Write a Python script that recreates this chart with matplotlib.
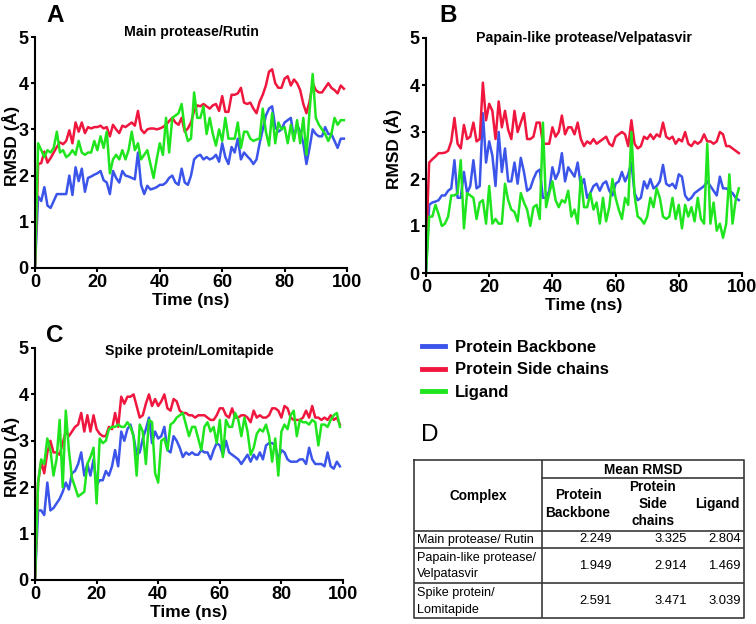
import numpy as np
import matplotlib
matplotlib.use("Agg")
import matplotlib.pyplot as plt
from matplotlib.lines import Line2D

plt.rcParams['font.family'] = ['Liberation Sans', 'DejaVu Sans']

# ---- data (RMSD in Angstrom, sampled every 1 ns) ----
time = np.arange(100)

rutin_backbone = [
    0.0, 1.55, 1.45, 1.75, 1.35, 1.3, 1.45, 1.6, 1.6, 1.6,
    1.6, 2.0, 1.58, 2.18, 1.88, 2.15, 1.65, 1.95, 1.98, 2.02,
    2.05, 2.1, 1.9, 1.85, 1.6, 2.1, 1.95, 1.85, 2.1, 2.0,
    1.98, 1.95, 1.92, 2.5, 1.8, 1.6, 1.78, 1.7, 1.72, 1.75,
    1.8, 1.8, 1.85, 1.95, 2.0, 1.85, 1.8, 2.15, 1.85, 1.8,
    2.0, 2.35, 2.42, 2.45, 2.35, 2.4, 2.35, 2.38, 2.45, 2.3,
    2.7, 2.4, 2.25, 2.62, 2.5, 2.8, 2.35, 2.5, 2.42, 2.35,
    2.25, 2.35, 2.7, 3.0, 3.3, 3.45, 3.5, 3.05, 2.95, 3.0,
    3.15, 3.2, 3.25, 2.8, 3.1, 2.95, 2.7, 2.25, 2.6, 3.0,
    2.9, 2.85, 2.85, 3.05, 2.9, 2.9, 2.75, 2.6, 2.8, 2.8]
rutin_side = [
    0.0, 2.25, 2.27, 2.52, 2.28, 2.38, 2.5, 2.62, 2.72, 2.68,
    2.75, 2.98, 2.7, 3.15, 2.95, 3.15, 2.92, 3.05, 3.02, 3.05,
    3.05, 3.08, 3.02, 3.05, 2.85, 3.1, 3.0, 2.92, 3.08, 3.05,
    3.1, 3.15, 3.08, 3.4, 3.0, 2.92, 3.0, 3.02, 3.02, 3.0,
    3.02, 3.05, 3.1, 3.18, 3.25, 3.15, 3.1, 3.25, 2.95, 3.02,
    3.15, 3.4, 3.52, 3.5, 3.55, 3.5, 3.45, 3.52, 3.55, 3.4,
    3.72, 3.38, 3.38, 3.75, 3.75, 3.78, 3.9, 3.58, 3.55, 3.58,
    3.45, 3.35, 3.6, 3.75, 3.95, 4.25, 4.3, 4.0, 3.9, 3.9,
    4.1, 4.15, 3.95, 4.08, 4.0, 3.85, 3.55, 3.35, 3.6, 4.0,
    3.85, 3.8, 3.8, 3.9, 4.0, 3.9, 3.85, 3.78, 3.95, 3.88]
rutin_ligand = [
    0.0, 2.7, 2.55, 2.4, 2.55, 2.5, 2.6, 2.95, 2.5, 2.55,
    2.4, 2.45, 2.55, 2.45, 2.75, 2.5, 2.45, 2.5, 2.5, 2.75,
    2.55, 2.85, 2.6, 2.95, 2.05, 2.35, 2.45, 2.35, 2.55, 2.35,
    2.55, 2.95, 2.55, 2.7, 2.35, 2.45, 2.55, 2.25, 1.95, 2.35,
    2.7, 2.45, 3.25, 2.5, 3.25, 3.3, 3.35, 3.55, 3.0, 2.75,
    2.8, 3.8, 3.25, 3.25, 3.5, 2.9, 3.25, 2.9, 2.65, 3.0,
    2.75, 3.25, 2.8, 2.8, 2.8, 3.15, 2.6, 2.95, 2.95, 2.8,
    2.75, 2.78, 2.8, 3.45, 2.95, 2.65, 3.35, 2.7, 3.15, 3.0,
    3.05, 2.7, 3.1, 2.75, 3.2, 2.7, 3.25, 2.45, 3.4, 4.2,
    3.25, 3.1, 3.0, 2.9, 2.75, 2.9, 3.25, 3.1, 3.2, 3.2]

velp_backbone = [
    0.0, 1.45, 1.5, 1.52, 1.55, 1.65, 1.65, 1.75, 1.8, 2.4,
    1.6, 1.6, 2.15, 1.7, 1.85, 2.4, 1.8, 1.85, 3.4, 2.35,
    2.8, 2.5, 1.85, 3.0, 2.15, 2.65, 1.95, 1.95, 2.35, 1.9,
    2.45, 2.15, 1.75, 1.8, 2.0, 2.15, 2.2, 1.6, 1.6, 1.75,
    2.25, 2.0, 2.15, 2.55, 1.95, 2.25, 2.15, 2.05, 2.35, 1.85,
    2.0, 1.6, 1.7, 1.85, 1.9, 1.75, 1.9, 1.95, 1.75, 1.65,
    1.9, 1.95, 2.15, 1.95, 2.1, 2.35, 1.7, 1.55, 1.6, 1.95,
    1.8, 2.0, 1.8, 1.85, 1.95, 2.3, 1.9, 1.85, 1.9, 1.8,
    2.1, 2.05, 1.65, 1.55, 1.6, 1.7, 1.75, 1.8, 1.85, 1.95,
    1.85, 1.75, 1.65, 2.05, 1.8, 1.8, 1.75, 1.7, 1.6, 1.55]
velp_side = [
    0.5, 2.35, 2.42, 2.48, 2.55, 2.55, 2.56, 2.6, 2.8, 3.3,
    2.75, 2.65, 3.15, 2.85, 2.9, 3.2, 2.8, 2.85, 4.05, 3.25,
    3.6, 3.45, 2.85, 3.65, 3.1, 3.45, 3.05, 2.85, 3.45, 3.0,
    3.2, 3.4, 2.85, 2.85, 2.9, 3.2, 3.2, 2.75, 2.75, 2.75,
    3.1, 2.9, 3.0, 3.35, 2.95, 3.1, 3.1, 2.95, 3.2, 2.85,
    2.7, 2.8, 2.75, 2.85, 2.75, 2.8, 2.85, 2.9, 2.75, 2.7,
    2.9, 2.95, 3.0, 2.95, 2.7, 3.25, 2.75, 2.65, 2.7, 2.9,
    2.85, 2.95, 2.85, 2.95, 2.9, 3.2, 2.9, 2.85, 2.9, 2.75,
    2.85, 2.8, 3.0, 2.75, 2.7, 2.8, 2.75, 2.8, 2.95, 2.8,
    2.8, 2.75, 2.8, 3.0, 2.95, 2.7, 2.7, 2.65, 2.6, 2.55]
velp_ligand = [
    0.0, 1.2, 1.2, 1.45, 1.25, 1.0, 1.05, 1.2, 1.65, 1.65,
    1.7, 2.4, 0.95, 1.7, 1.65, 1.6, 1.15, 1.5, 1.55, 1.05,
    1.85, 1.05, 1.15, 1.05, 1.05, 1.9, 1.55, 1.35, 1.3, 1.1,
    1.7, 1.5, 1.35, 1.0, 1.4, 1.45, 1.15, 3.2, 1.4, 1.7,
    1.95, 1.55, 1.4, 1.55, 1.5, 1.75, 1.2, 1.35, 1.05, 2.05,
    1.4, 1.4, 1.7, 1.35, 1.5, 1.05, 1.6, 1.1, 1.4, 2.0,
    1.6, 1.35, 1.15, 1.6, 1.45, 3.0, 1.65, 1.2, 1.15, 1.05,
    1.2, 1.6, 1.4, 1.8, 1.6, 1.2, 1.15, 1.2, 1.6, 1.15,
    1.45, 0.95, 1.45, 1.2, 1.4, 1.1, 1.6, 1.15, 1.05, 2.75,
    1.05, 1.5, 0.9, 1.05, 0.75, 1.05, 2.1, 1.05, 1.55, 1.8]

lomi_backbone = [
    0.0, 1.5, 1.5, 1.4, 2.1, 1.5, 1.55, 1.65, 1.75, 1.9,
    2.1, 1.95, 2.3, 2.35, 2.5, 2.75, 2.25, 2.5, 2.25, 2.6,
    2.05, 2.15, 2.15, 2.35, 2.25, 2.45, 2.8, 2.45, 3.2, 3.0,
    3.25, 3.35, 3.1, 2.7, 2.75, 3.05, 3.25, 3.5, 2.95, 3.2,
    3.05, 3.1, 3.3, 2.8, 2.75, 3.1, 3.0, 2.85, 2.65, 2.75,
    2.7, 2.75, 2.7, 2.7, 2.8, 2.75, 2.75, 2.6, 2.8, 2.95,
    2.9, 2.7, 3.0, 2.75, 2.7, 2.65, 2.6, 2.5, 2.6, 2.7,
    2.55, 2.7, 2.6, 2.75, 2.6, 2.9, 2.95, 2.95, 2.9, 2.6,
    2.8, 2.75, 2.6, 2.55, 2.55, 2.55, 2.6, 2.6, 2.5, 2.85,
    2.6, 2.5, 2.5, 2.5, 2.45, 2.75, 2.45, 2.4, 2.55, 2.45]
lomi_side = [
    0.0, 2.1, 2.55, 2.3, 2.75, 3.0, 2.75, 2.75, 2.7, 2.95,
    3.2, 3.1, 3.2, 3.3, 3.35, 3.6, 3.2, 3.55, 3.2, 3.55,
    3.25, 3.15, 3.1, 3.1, 3.3, 3.25, 3.6, 3.3, 3.95, 3.8,
    3.95, 3.95, 4.0, 3.75, 3.5, 3.55, 3.8, 4.0, 3.75, 3.9,
    3.75, 3.85, 4.0, 3.7, 3.65, 3.9, 3.85, 3.65, 3.6, 3.6,
    3.55, 3.55, 3.5, 3.55, 3.55, 3.55, 3.5, 3.45, 3.45, 3.55,
    3.7, 3.7, 3.55, 3.5, 3.7, 3.5, 3.5, 3.55, 3.55, 3.5,
    3.4, 3.65, 3.5, 3.55, 3.5, 3.5, 3.55, 3.7, 3.7, 3.65,
    3.5, 3.75, 3.7, 3.5, 3.45, 3.45, 3.45, 3.5, 3.65, 3.5,
    3.75, 3.5, 3.5, 3.45, 3.5, 3.45, 3.55, 3.45, 3.5, 3.35]
lomi_ligand = [
    0.0, 2.1, 2.6, 2.5, 3.05, 2.8, 2.25, 2.6, 3.45, 2.0,
    3.65, 2.8, 2.2, 2.0, 1.8, 1.85, 1.9, 2.5, 2.65, 2.85,
    1.65, 3.05, 2.95, 3.0, 3.25, 3.3, 3.3, 3.35, 3.3, 3.3,
    3.4, 3.3, 3.1, 2.25, 3.35, 3.2, 2.5, 3.45, 3.4, 2.3,
    2.1, 3.0, 3.05, 2.8, 3.35, 3.4, 3.5, 3.55, 3.6, 3.35,
    3.1, 3.3, 3.3, 3.05, 2.8, 3.3, 3.4, 3.2, 3.3, 2.95,
    3.45, 2.65, 3.45, 3.3, 3.3, 3.6, 3.45, 3.1, 3.5, 3.2,
    2.7, 2.85, 3.15, 3.25, 3.2, 3.35, 3.1, 2.55, 3.05, 2.25,
    3.2, 3.35, 3.25, 3.55, 3.65, 3.1, 3.45, 3.4, 3.4, 3.35,
    3.45, 3.4, 2.9, 3.35, 3.35, 3.3, 3.45, 3.55, 3.6, 3.3]

series_labels = ['Protein Backbone', 'Protein Side chains', 'Ligand']
complexes = ['Main protease/ Rutin', 'Papain-like protease/\nVelpatasvir',
             'Spike protein/\nLomitapide']
mean_backbone = ['2.249', '1.949', '2.591']
mean_side = ['3.325', '2.914', '3.471']
mean_ligand = ['2.804', '1.469', '3.039']

BLUE = '#3b55ea'
RED = '#f0173f'
GREEN = '#1fe51f'
colors = [BLUE, RED, GREEN]

W, H = 756, 624
fig = plt.figure(figsize=(W / 100, H / 100), dpi=100)


def px_axes(x0, y0, x1, y1):
    return fig.add_axes([x0 / W, 1 - y1 / H, (x1 - x0) / W, (y1 - y0) / H])


def draw_panel(ax, title, title_y, ylabel_x, backbone, side, ligand):
    for vals, c in zip([backbone, side, ligand], colors):
        ax.plot(time, vals, color=c, lw=1.8)
    ax.set_xlim(0, 100)
    ax.set_ylim(0, 5)
    ax.set_xticks(range(0, 101, 20))
    ax.set_yticks(range(0, 6))
    ax.spines['top'].set_visible(False)
    ax.spines['right'].set_visible(False)
    for s in ['left', 'bottom']:
        ax.spines[s].set_linewidth(1.5)
    ax.tick_params(direction='out', length=3, width=1.5, labelsize=13, pad=1.5)
    for lab in ax.get_xticklabels() + ax.get_yticklabels():
        lab.set_fontweight('bold')
    ax.set_xlabel('Time (ns)', fontsize=12.5, fontweight='bold', labelpad=1)
    ax.set_ylabel('RMSD (Å)', fontsize=12.5, fontweight='bold')
    # ylabel anchor is the right edge of the rotated text
    ax.yaxis.set_label_coords(ylabel_x, 0.53)
    ax.text(0.5, title_y, title, transform=ax.transAxes, ha='center',
            va='center', fontsize=10.2, fontweight='bold')


axA = px_axes(35, 37, 347, 268)
draw_panel(axA, 'Main protease/Rutin', 1.02, -0.048,
           rutin_backbone, rutin_side, rutin_ligand)
axB = px_axes(426, 38, 742, 273)
draw_panel(axB, 'Papain-like protease/Velpatasvir', 1.0, -0.076,
           velp_backbone, velp_side, velp_ligand)
axC = px_axes(35, 348, 343, 580)
draw_panel(axC, 'Spike protein/Lomitapide', 0.985, -0.049,
           lomi_backbone, lomi_side, lomi_ligand)

# panel letters
fig.text(46 / W, 1 - 4 / H, 'A', fontsize=17.5, fontweight='bold', va='top')
fig.text(439 / W, 1 - 4 / H, 'B', fontsize=17.5, fontweight='bold', va='top')
fig.text(46 / W, 1 - 324 / H, 'C', fontsize=17.5, fontweight='bold', va='top')
fig.text(421 / W, 1 - 424 / H, 'D', fontsize=17.5, va='top')

# legend
handles = [Line2D([], [], color=c, lw=3.5) for c in colors]
fig.legend(handles, series_labels, loc='center left',
           bbox_to_anchor=(414 / W, 1 - 370 / H), frameon=False,
           prop={'size': 12, 'weight': 'bold'}, handlelength=1.35,
           handletextpad=0.6, labelspacing=0.45, borderpad=0)

# table D (drawn in pixel-like coordinates of its own axes)
tx0, ty0, tx1, ty1 = 414, 460, 744, 618
tab = px_axes(tx0, ty0, tx1, ty1)
tab.set_xlim(tx0, tx1)
tab.set_ylim(ty1, ty0)
tab.axis('off')
lc = '#3a3a3a'
col_split = 542
row_lines = [531, 548, 583]
tab.plot([tx0, tx1, tx1, tx0, tx0], [ty0, ty0, ty1, ty1, ty0], color=lc, lw=1.2, clip_on=False)
tab.plot([col_split, col_split], [ty0, ty1], color=lc, lw=1.2)
tab.plot([col_split, tx1], [478, 478], color=lc, lw=1.2)
for y in row_lines:
    tab.plot([tx0, tx1], [y, y], color=lc, lw=1.2)

hfs = 9.8
tab.text(643, 469.5, 'Mean RMSD', ha='center', va='center', fontsize=hfs, fontweight='bold')
tab.text(478, 496, 'Complex', ha='center', va='center', fontsize=hfs, fontweight='bold')
tab.text(578, 504, 'Protein\nBackbone', ha='center', va='center', fontsize=hfs,
         fontweight='bold', linespacing=1.3)
tab.text(653, 504, 'Protein\nSide\nchains', ha='center', va='center', fontsize=hfs,
         fontweight='bold', linespacing=1.3)
tab.text(717, 504, 'Ligand', ha='center', va='center', fontsize=hfs, fontweight='bold')

row_centers = [539.5, 566, 601.5]
for yc, name, b, s, l in zip(row_centers, complexes, mean_backbone, mean_side, mean_ligand):
    tab.text(417, yc, name, ha='left', va='center', fontsize=9.1, linespacing=1.45)
    tab.text(612, yc, b, ha='right', va='center', fontsize=9.4)
    tab.text(687, yc, s, ha='right', va='center', fontsize=9.4)
    tab.text(741, yc, l, ha='right', va='center', fontsize=9.4)

fig.savefig('out.png', dpi=100)
